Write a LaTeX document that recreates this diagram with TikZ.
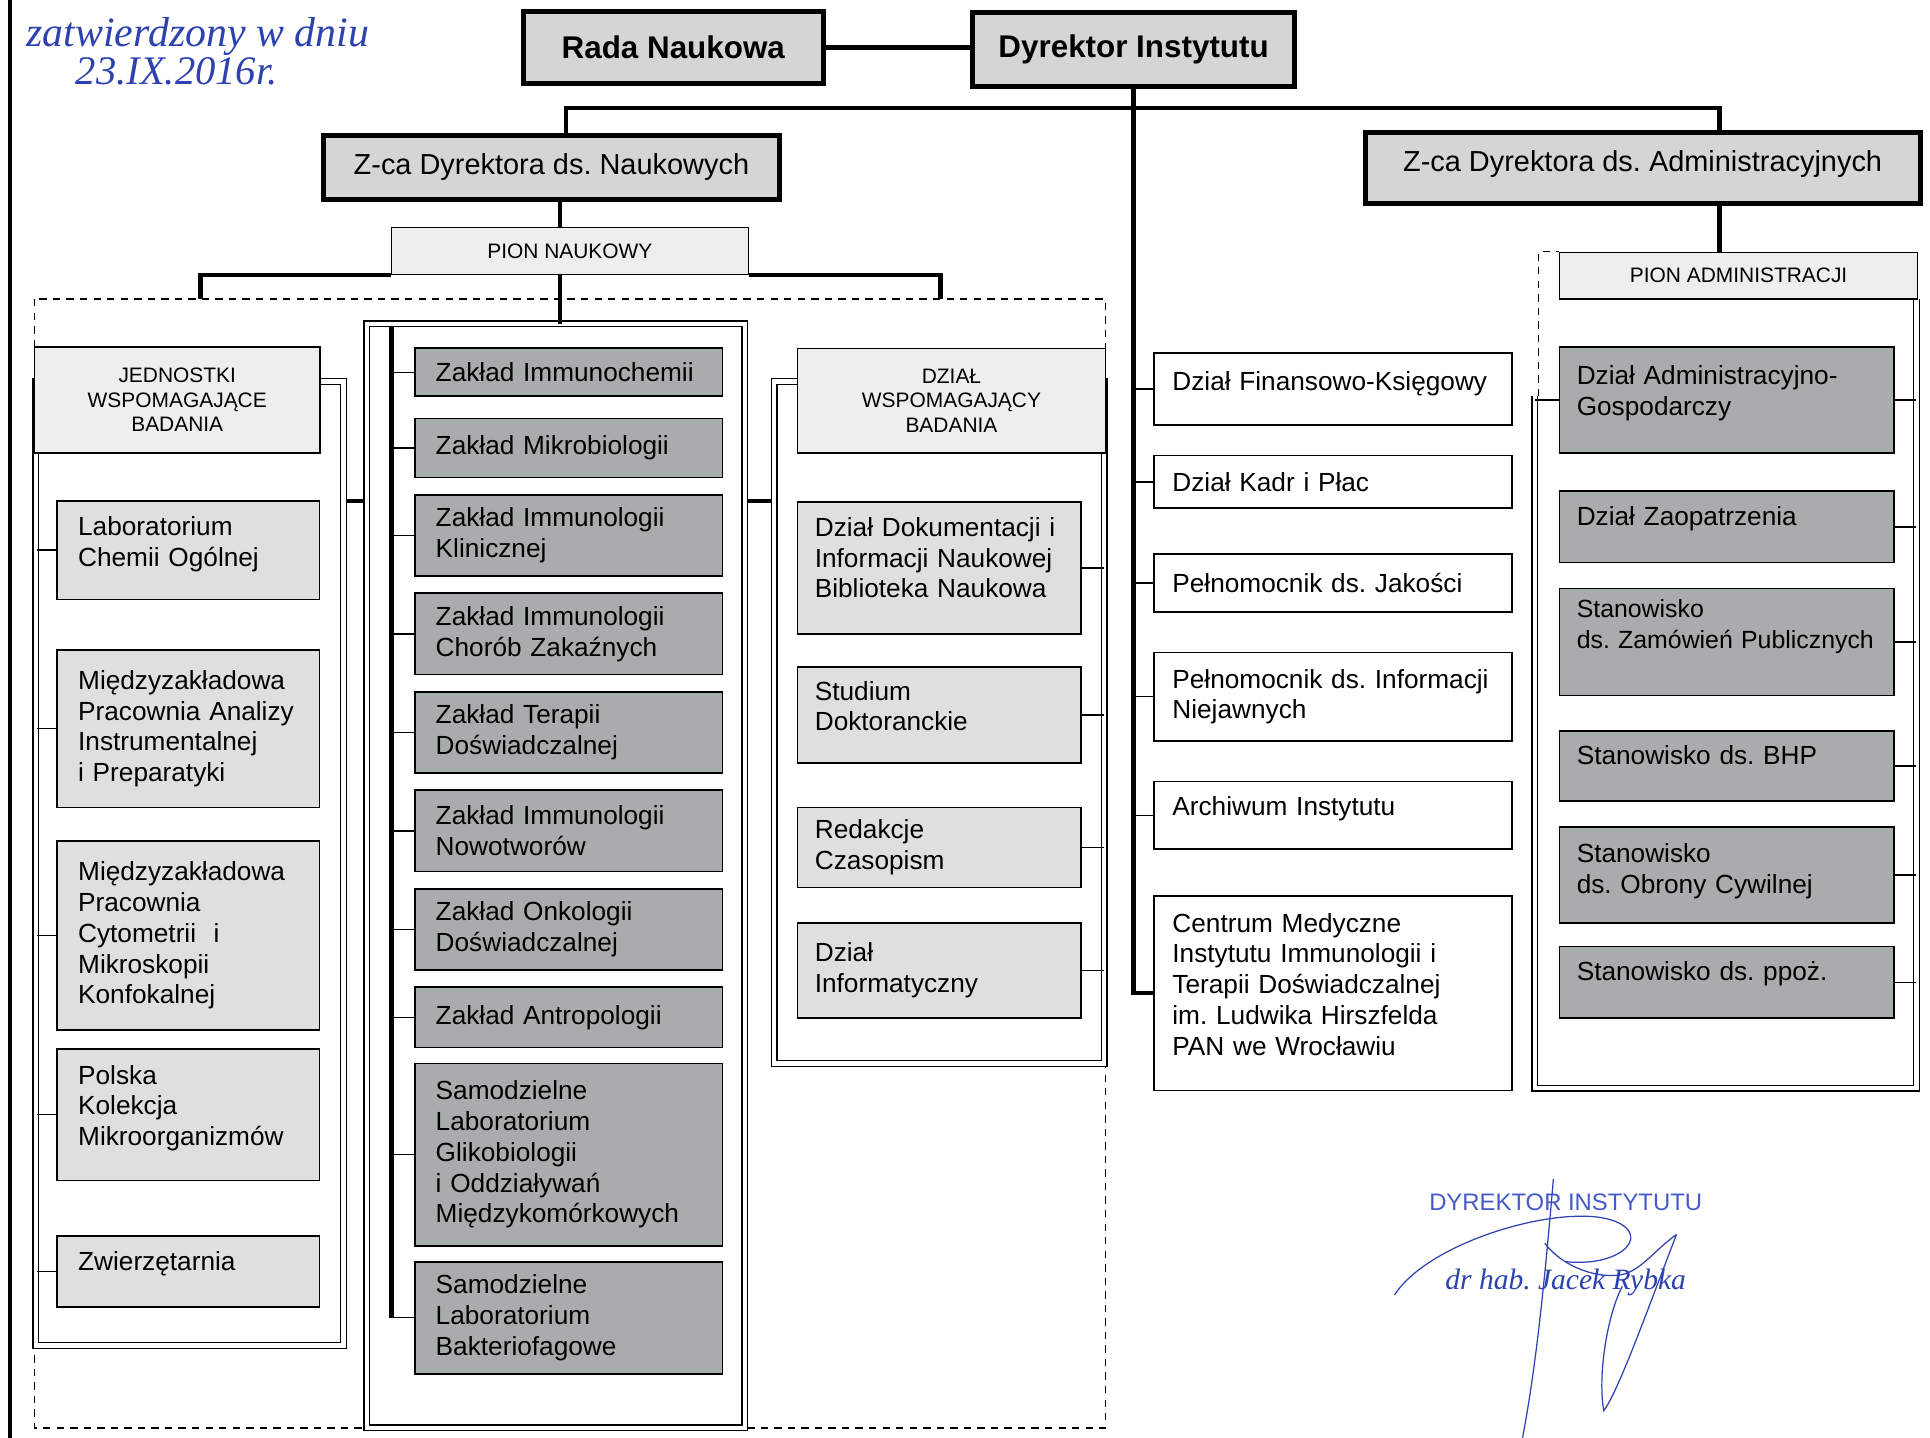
\documentclass[tikz,border=0pt]{standalone}
\usepackage{fontspec}
\setmainfont{Liberation Sans}
\newfontfamily\odrecznie{Liberation Serif}
\usetikzlibrary{positioning}
\usetikzlibrary{calc}
\frenchspacing
\hyphenpenalty=10000
\exhyphenpenalty=10000

\definecolor{ciemnyszary}{RGB}{168,172,172}
\definecolor{jasnyszary}{RGB}{222,223,223}
\definecolor{bladyszary}{RGB}{238,238,238}
\definecolor{gornyszary}{RGB}{212,214,214}
\definecolor{atrament}{RGB}{45,65,175}
\definecolor{pieczatka}{RGB}{70,90,200}

\begin{document}
\begin{tikzpicture}[x=1pt, y=-1pt,
			glowny/.style={draw=black, line width=4pt, fill=gornyszary, font=\fontsize{25.5}{30}\selectfont\bfseries},
			zastepca/.style={draw=black, line width=4pt, fill=gornyszary, font=\fontsize{23.5}{28}\selectfont},
			naglowek/.style={draw=black, line width=1pt, fill=bladyszary, align=center, font=\fontsize{17}{20}\selectfont},
			komorka/.style={draw=black, line width=1.4pt, align=left, inner ysep=3pt, font=\fontsize{21.3}{25}\selectfont},
			jednostka/.style={komorka, fill=jasnyszary, text width=179pt, inner xsep=17pt},
			zaklad/.style={komorka, fill=ciemnyszary, text width=216pt, inner xsep=17pt},
			dzial/.style={komorka, fill=jasnyszary, text width=202pt, inner xsep=14pt},
			biuro/.style={komorka, fill=white, text width=261pt, inner xsep=15pt},
			stanowisko/.style={komorka, fill=ciemnyszary, text width=244pt, inner xsep=14pt},
			gruba/.style={line width=3.5pt},
			cienka/.style={line width=1.2pt},
			rama/.style={draw=black, line width=1.1pt, double, double distance=3.5pt},
			przerywana/.style={line width=1.1pt, dash pattern=on 6pt off 5pt}
			]
			
			\useasboundingbox (0,0) rectangle (1568,1168);
			\draw[line width=3pt] (8,0) -- (8,1168);
			
			% ramki
			\draw[przerywana] (28,243) rectangle (898,1160);
			\draw[rama] (29,310) rectangle (279,1093);
			\draw[rama] (298,263) rectangle (605,1160);
			\draw[rama] (629,310) rectangle (897,864);
			\draw[rama] (1247,322) -- (1247,884) -- (1557,884) -- (1557,243);
			
			\coordinate (szynaL) at (460,88);
			\coordinate (szynaP) at (1397,88);
			\coordinate (osN) at (455,263);
			\coordinate (kolumnaL) at (163,243);
			\coordinate (kolumnaP) at (764,243);
			\coordinate (grzbietL) at (30,0);
			\coordinate (grzbietS) at (318,266);
			\coordinate (grzbietP) at (897,0);
			\coordinate (grzbietA) at (1557,0);
			\coordinate (grzbietAL) at (1247,0);
			\coordinate (laczL) at (281,407);
			\coordinate (laczS) at (296,407);
			\coordinate (laczS2) at (607,407);
			\coordinate (laczP) at (627,407);
			\coordinate (przerA) at (1250,322);
			
			\node[text=atrament, font=\odrecznie\itshape\fontsize{34}{36}\selectfont, anchor=west] at (18,30) (notka) {zatwierdzony w dniu};
			\node[text=atrament, font=\odrecznie\itshape\fontsize{33}{36}\selectfont, anchor=west] at (58,58) (data) {23.IX.2016r.};
			
			\node[glowny, minimum width=244pt, minimum height=59pt] at (547,38.5) (rada) {Rada Naukowa};
			\node[glowny, minimum width=262pt, minimum height=60pt] at (921,40) (dyr) {Dyrektor Instytutu};
			\node[zastepca, minimum width=370pt, minimum height=52pt] at (448,136) (zcaN) {Z-ca Dyrektora ds. Naukowych};
			\node[zastepca, minimum width=451pt, minimum height=57pt, text depth=11pt] at (1334.5,136.5) (zcaA) {Z-ca Dyrektora ds. Administracyjnych};
			
			\node[naglowek, minimum width=290pt, minimum height=38pt] at (463,204) (pionN) {PION NAUKOWY};
			\node[naglowek, minimum width=291pt, minimum height=38pt] at (1412.5,224) (pionA) {PION ADMINISTRACJI};
			\node[naglowek, minimum width=232pt, minimum height=86pt] at (144,325) (jedn) {JEDNOSTKI\\WSPOMAGAJĄCE\\BADANIA};
			\node[naglowek, minimum width=250pt, minimum height=85pt] at (773,325.5) (dzialW) {DZIAŁ\\WSPOMAGAJĄCY\\BADANIA};
			
			\node[jednostka, minimum height=80pt, text depth=39pt] at (153,447) (lab) {Laboratorium\\Chemii Ogólnej};
			\node[jednostka, minimum height=128pt] at (153,592) (analiz) {Międzyzakładowa\\Pracownia Analizy\\Instrumentalnej\\i Preparatyki};
			\node[jednostka, minimum height=154pt] at (153,760) (cyto) {Międzyzakładowa\\Pracownia\\Cytometrii~ i\\Mikroskopii\\Konfokalnej};
			\node[jednostka, minimum height=107pt, text depth=65pt] at (153,905.5) (pkm) {Polska\\Kolekcja\\Mikroorganizmów};
			\node[jednostka, minimum height=58pt, text depth=17pt] at (153,1033) (zwierz) {Zwierzętarnia};
			
			\node[zaklad, minimum height=39pt] at (462,302.5) (zImm) {Zakład Immunochemii};
			\node[zaklad, minimum height=48pt] at (462,364) (zMikro) {Zakład Mikrobiologii};
			\node[zaklad, minimum height=66pt] at (462,435) (zKlin) {Zakład Immunologii\\Klinicznej};
			\node[zaklad, minimum height=66pt] at (462,515) (zZak) {Zakład Immunologii\\Chorób Zakaźnych};
			\node[zaklad, minimum height=66pt] at (462,595) (zTer) {Zakład Terapii\\Doświadczalnej};
			\node[zaklad, minimum height=66pt] at (462,675) (zNow) {Zakład Immunologii\\Nowotworów};
			\node[zaklad, minimum height=66pt] at (462,755) (zOnk) {Zakład Onkologii\\Doświadczalnej};
			\node[zaklad, minimum height=49pt] at (462,826.5) (zAnt) {Zakład Antropologii};
			\node[zaklad, minimum height=148pt] at (462,938) (zGlik) {Samodzielne\\Laboratorium\\Glikobiologii\\i Oddziaływań\\Międzykomórkowych};
			\node[zaklad, minimum height=91pt] at (462,1070.5) (zBakt) {Samodzielne\\Laboratorium\\Bakteriofagowe};
			
			\node[dzial, minimum height=107pt, text depth=67pt] at (763,461.5) (dok) {Dział Dokumentacji i\\Informacji Naukowej\\Biblioteka Naukowa};
			\node[dzial, minimum height=78pt, text depth=40pt] at (763,581) (stud) {Studium\\Doktoranckie};
			\node[dzial, minimum height=65pt] at (763,688.5) (red) {Redakcje\\Czasopism};
			\node[dzial, minimum height=77pt] at (763,788.5) (inf) {Dział\\Informatyczny};
			
			\node[biuro, minimum height=58pt, text depth=13pt] at (1083,316) (fin) {Dział Finansowo-Księgowy};
			\node[biuro, minimum height=43pt] at (1083,391.5) (kadr) {Dział Kadr i Płac};
			\node[biuro, minimum height=47pt] at (1083,473.5) (jak) {Pełnomocnik ds. Jakości};
			\node[biuro, minimum height=72pt] at (1083,566) (niej) {Pełnomocnik ds.~Informacji\\Niejawnych};
			\node[biuro, minimum height=55pt, text depth=15pt] at (1083,662.5) (arch) {Archiwum Instytutu};
			\node[biuro, minimum height=158pt, text depth=115pt] at (1083,807) (centrum) {Centrum Medyczne\\Instytutu Immunologii i\\Terapii Doświadczalnej\\im. Ludwika Hirszfelda\\PAN we Wrocławiu};
			
			\node[stanowisko, minimum height=86pt, text depth=40pt] at (1403,325) (adm) {Dział Administracyjno-\\Gospodarczy};
			\node[stanowisko, minimum height=58pt, text depth=17pt] at (1403,428) (zaop) {Dział Zaopatrzenia};
			\node[stanowisko, minimum height=87pt, text depth=54pt, font=\fontsize{20.2}{25}\selectfont] at (1403,521.5) (zam) {Stanowisko\\ds.~Zamówień~Publicznych};
			\node[stanowisko, minimum height=57pt, text depth=19pt] at (1403,622.5) (bhp) {Stanowisko ds. BHP};
			\node[stanowisko, minimum height=78pt, text depth=36pt] at (1403,711) (oc) {Stanowisko\\ds. Obrony Cywilnej};
			\node[stanowisko, minimum height=58pt, text depth=19pt] at (1403,798) (ppoz) {Stanowisko ds. ppoż.};
			
			\node[text=pieczatka, font=\fontsize{19.4}{22}\selectfont] at (1272,977) (podpisT) {DYREKTOR INSTYTUTU};
			\node[text=atrament, font=\odrecznie\itshape\fontsize{24}{28}\selectfont] at (1272,1042) (podpisN) {dr hab. Jacek Rybka};
			
			% polaczenia
			\draw[gruba] (rada.east) -- (rada.east -| dyr.west);
			\draw[gruba] (dyr.south) |- (centrum.west);
			\draw[gruba] (zcaN.north -| szynaL) -- (szynaL) -- (szynaP) -- (zcaA.north -| szynaP);
			\draw[gruba] (zcaA.south -| szynaP) -- (pionA.north -| szynaP);
			\draw[gruba] (zcaN.south -| osN) -- (pionN.north -| osN);
			\draw[gruba] (pionN.south -| osN) -- (osN);
			\draw[gruba] (kolumnaL) |- (pionN.south west);
			\draw[gruba] (kolumnaP) |- (pionN.south east);
			\draw[gruba] (grzbietS) -- (grzbietS |- zBakt.west);
			\draw[gruba] (laczL) -- (laczS);
			\draw[gruba] (laczS2) -- (laczP);
			\draw[przerywana] (przerA) |- (pionA.north west);
			
			\foreach \n in {lab,analiz,cyto,pkm,zwierz}
				\draw[cienka] (\n.west -| grzbietL) -- (\n.west);
			\foreach \n in {zImm,zMikro,zKlin,zZak,zTer,zNow,zOnk,zAnt,zGlik,zBakt}
				\draw[cienka] (\n.west -| grzbietS) -- (\n.west);
			\foreach \n in {dok,stud,red,inf}
				\draw[cienka] (\n.east) -- (\n.east -| grzbietP);
			\foreach \n in {fin,kadr,jak,niej,arch}
				\draw[cienka] (\n.west -| dyr.south) -- (\n.west);
			\foreach \n in {adm,zaop,zam,bhp,oc,ppoz}
				\draw[cienka] (\n.east) -- (\n.east -| grzbietA);
			\draw[cienka] (adm.west -| grzbietAL) -- (adm.west);
			
			% podpis
			\draw[atrament, line width=1pt] (1133,1052) .. controls (1160,1010) and (1260,980) .. (1305,990) .. controls (1345,1000) and (1320,1030) .. (1272,1025);
			\draw[atrament, line width=1pt] (1262,958) .. controls (1255,1040) and (1248,1110) .. (1237,1168);
			\draw[atrament, line width=1pt] (1255,1010) .. controls (1270,1030) and (1300,1040) .. (1320,1035) .. controls (1335,1030) and (1345,1015) .. (1362,1003);
			\draw[atrament, line width=1pt] (1362,1003) .. controls (1340,1060) and (1315,1130) .. (1303,1146) .. controls (1298,1120) and (1305,1070) .. (1318,1045);
		\end{tikzpicture}
\end{document}
